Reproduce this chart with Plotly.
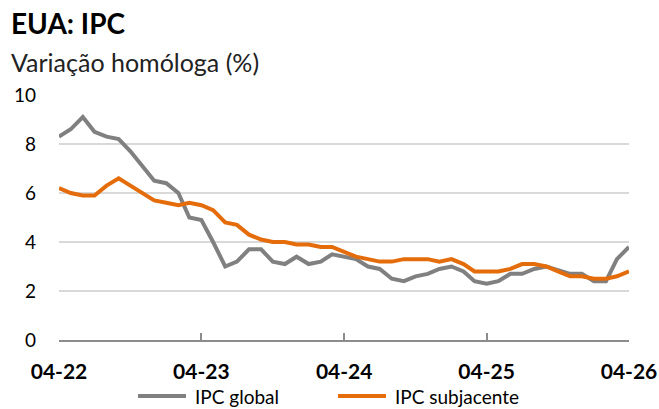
import pandas as pd
import plotly.graph_objects as go

# monthly, 04-2022 .. 04-2026
months = pd.date_range("2022-04-01", "2026-04-01", freq="MS")

ipc_global = [8.3, 8.6, 9.1, 8.5, 8.3, 8.2, 7.7, 7.1, 6.5,
              6.4, 6.0, 5.0, 4.9, 4.0, 3.0, 3.2, 3.7, 3.7, 3.2, 3.1, 3.4,
              3.1, 3.2, 3.5, 3.4, 3.3, 3.0, 2.9, 2.5, 2.4, 2.6, 2.7, 2.9,
              3.0, 2.8, 2.4, 2.3, 2.4, 2.7, 2.7, 2.9, 3.0, 2.85, 2.7, 2.7,
              2.4, 2.4, 3.3, 3.8]

ipc_subjacente = [6.2, 6.0, 5.9, 5.9, 6.3, 6.6, 6.3, 6.0, 5.7,
                  5.6, 5.5, 5.6, 5.5, 5.3, 4.8, 4.7, 4.3, 4.1, 4.0, 4.0, 3.9,
                  3.9, 3.8, 3.8, 3.6, 3.4, 3.3, 3.2, 3.2, 3.3, 3.3, 3.3, 3.2,
                  3.3, 3.1, 2.8, 2.8, 2.8, 2.9, 3.1, 3.1, 3.0, 2.8, 2.6, 2.6,
                  2.5, 2.5, 2.6, 2.8]

tick_dates = pd.to_datetime(["2022-04-01", "2023-04-01", "2024-04-01",
                             "2025-04-01", "2026-04-01"])
tick_labels = ["04-22", "04-23", "04-24", "04-25", "04-26"]

series_names = ["IPC global", "IPC subjacente"]
series_colors = ["#808080", "#e46c0a"]

FONT = "Lato"

# plot box in pixels (used to place the hand-made legend below the axis)
L, T, W, H = 59, 95, 570, 245

fig = go.Figure()
for name, vals, col in zip(series_names, [ipc_global, ipc_subjacente], series_colors):
    fig.add_trace(go.Scatter(x=months, y=vals, mode="lines", name=name,
                             line=dict(color=col, width=4)))

# legend drawn by hand so it can sit as low as in the original (plotly clamps its own)
legend_x = [138, 338]
legend_y = 396
for lx, name, col in zip(legend_x, series_names, series_colors):
    fig.add_shape(type="line", xref="paper", yref="paper",
                  x0=(lx - L) / W, x1=(lx + 48 - L) / W,
                  y0=(T + H - legend_y) / H, y1=(T + H - legend_y) / H,
                  line=dict(color=col, width=4))
    fig.add_annotation(text=name, xref="paper", yref="paper",
                       x=(lx + 55 - L) / W, y=(T + H - legend_y) / H,
                       xanchor="left", yanchor="middle", showarrow=False,
                       font=dict(size=19, family=FONT, color="#000000"))

fig.add_annotation(text="<b>EUA: IPC</b>", xref="paper", yref="paper", x=-50/W, y=1 + 72/H,
                   xanchor="left", yanchor="middle", showarrow=False,
                   font=dict(size=28, family=FONT, color="#000000"))
fig.add_annotation(text="Variação homóloga (%)", xref="paper", yref="paper", x=-50/W, y=1 + 33/H,
                   xanchor="left", yanchor="middle", showarrow=False,
                   font=dict(size=25, family=FONT, color="#222222"))

fig.update_layout(
    width=659, height=409,
    margin=dict(l=L, r=659 - L - W, t=T, b=409 - T - H),
    paper_bgcolor="white", plot_bgcolor="white",
    font=dict(family=FONT, color="#000000"),
    showlegend=False,
)

fig.update_xaxes(range=[months[0], months[-1]], tickvals=tick_dates, ticktext=tick_labels,
                 showgrid=False, showline=True, linecolor="#8c8c8c", linewidth=1.5,
                 ticks="inside", ticklen=7, tickcolor="#8c8c8c", tickwidth=1.5,
                 ticklabelstandoff=12, automargin=False,
                 tickfont=dict(size=21, family=FONT, weight="bold"))
fig.update_yaxes(range=[0, 10], dtick=2, showgrid=True, gridcolor="#d9d9d9", gridwidth=1.5,
                 zeroline=False, showline=False, ticklabelstandoff=22,
                 tickfont=dict(size=19, family=FONT))

# drop the page's default body margin so the figure sits at the window's corner
fig.write_html("out.html", config={"displayModeBar": False},
               post_script="document.body.style.margin='0px';")
